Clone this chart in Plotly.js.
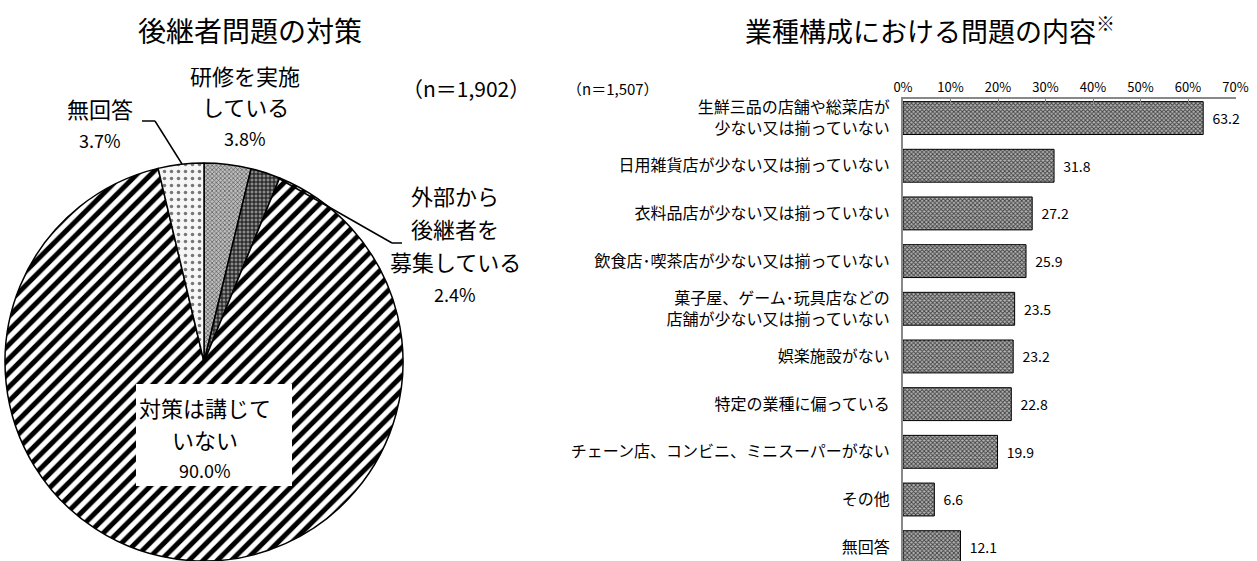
<!DOCTYPE html>
<html>
<head>
<meta charset="utf-8">
<script src="https://cdn.plot.ly/plotly-3.0.1.min.js"></script>
<style>
  body { margin: 0; background: #fff; }
  #chart { width: 1257px; height: 561px; }
</style>
</head>
<body>
<div id="chart"></div>
<script>
// left: pie
var pieLabels = ['研修を実施している', '外部から後継者を募集している', '対策は講じていない', '無回答'];
var pieValues = [3.8, 2.4, 90.0, 3.7];

// right: bars
var barCategories = [
  '生鮮三品の店舗や総菜店が少ない又は揃っていない',
  '日用雑貨店が少ない又は揃っていない',
  '衣料品店が少ない又は揃っていない',
  '飲食店・喫茶店が少ない又は揃っていない',
  '菓子屋、ゲーム・玩具店などの店舗が少ない又は揃っていない',
  '娯楽施設がない',
  '特定の業種に偏っている',
  'チェーン店、コンビニ、ミニスーパーがない',
  'その他',
  '無回答'
];
var barTickText = [
  '生鮮三品の店舗や総菜店が<br>少ない又は揃っていない',
  '日用雑貨店が少ない又は揃っていない',
  '衣料品店が少ない又は揃っていない',
  '飲食店･喫茶店が少ない又は揃っていない',
  '菓子屋、ゲーム･玩具店などの<br>店舗が少ない又は揃っていない',
  '娯楽施設がない',
  '特定の業種に偏っている',
  'チェーン店、コンビニ、ミニスーパーがない',
  'その他',
  '無回答'
];
var barValues = [63.2, 31.8, 27.2, 25.9, 23.5, 23.2, 22.8, 19.9, 6.6, 12.1];

var W = 1257, H = 561;
var FONT = 'Noto Sans CJK JP, sans-serif';
function px(x) { return x / W; }
function py(y) { return 1 - y / H; }

var pieTrace = {
  type: 'pie',
  labels: pieLabels,
  values: pieValues,
  sort: false,
  direction: 'clockwise',
  rotation: 0,
  textinfo: 'none',
  showlegend: false,
  domain: { x: [px(5), px(403)], y: [0, py(163)] },
  marker: {
    colors: ['#9a9a9a', '#6a6a6a', '#ffffff', '#f4f4f4'],
    line: { color: '#000', width: 1.5 },
    pattern: {
      shape: ['x', '+', '/', '.'],
      fgcolor: ['#555555', '#111111', '#000000', '#777777'],
      bgcolor: ['#bdbdbd', '#8a8a8a', '#ffffff', '#f6f6f6'],
      size: [3, 4, 10, 7],
      solidity: [0.4, 0.45, 0.5, 0.2]
    }
  }
};

var barTrace = {
  type: 'bar',
  orientation: 'h',
  x: barValues,
  y: barCategories,
  xaxis: 'x',
  yaxis: 'y',
  width: 0.69,
  marker: {
    color: '#a0a0a0',
    line: { color: '#000', width: 1 },
    pattern: { shape: 'x', fgcolor: '#404040', bgcolor: '#b4b4b4', size: 3, solidity: 0.5 }
  },
  texttemplate: '\u00a0\u00a0%{x:.1f}',
  textposition: 'outside',
  cliponaxis: false,
  textfont: { family: FONT, size: 14, color: '#000' },
  showlegend: false
};

var annotations = [];
function addLines(lines, x, y0, dy, sizes) {
  lines.forEach(function (t, i) {
    annotations.push({
      xref: 'paper', yref: 'paper', x: px(x), y: py(y0 + i * dy),
      xanchor: 'center', yanchor: 'middle', showarrow: false,
      text: t, font: { family: FONT, size: sizes[i], color: '#000' }
    });
  });
}
function pct(v) { return v.toFixed(1) + '%'; }

addLines(['研修を実施', 'している', pct(pieValues[0])], 245, 75, 31.5, [22, 22, 18]);
addLines(['外部から', '後継者を', '募集している', pct(pieValues[1])], 455, 195, 33, [22, 22, 22, 18]);
addLines(['対策は講じて', 'いない', pct(pieValues[2])], 205, 407, 31.5, [22, 22, 18]);
addLines(['無回答', pct(pieValues[3])], 100, 108, 32, [22, 18]);

annotations.push(
  { xref: 'paper', yref: 'paper', x: px(250), y: py(30), xanchor: 'center', yanchor: 'middle',
    showarrow: false, text: '後継者問題の対策', font: { family: FONT, size: 28, color: '#000' } },
  { xref: 'paper', yref: 'paper', x: px(930), y: py(30), xanchor: 'center', yanchor: 'middle',
    showarrow: false, text: '業種構成における問題の内容<sup>※</sup>', font: { family: FONT, size: 27, color: '#000' } },
  { xref: 'paper', yref: 'paper', x: px(466), y: py(88), xanchor: 'center', yanchor: 'middle',
    showarrow: false, text: '（n＝1,902）', font: { family: FONT, size: 21, color: '#000' } },
  { xref: 'paper', yref: 'paper', x: px(565), y: py(88), xanchor: 'left', yanchor: 'middle',
    showarrow: false, text: '（n＝1,507）', font: { family: FONT, size: 15, color: '#000' } }
);

function seg(x0, y0, x1, y1) {
  return { type: 'line', xref: 'paper', yref: 'paper', x0: px(x0), y0: py(y0), x1: px(x1), y1: py(y1),
    line: { color: '#000', width: 1.5 } };
}

var shapes = [
  { type: 'rect', xref: 'paper', yref: 'paper', x0: px(136), x1: px(292), y0: py(384), y1: py(486),
    fillcolor: '#fff', line: { width: 0 }, layer: 'above' },
  seg(142, 121, 155, 121), seg(155, 121, 182, 164),
  seg(278, 178, 392, 243), seg(392, 243, 402, 243)
];

var layout = {
  width: W, height: H,
  margin: { l: 0, r: 0, t: 0, b: 0 },
  paper_bgcolor: '#fff', plot_bgcolor: 'rgba(0,0,0,0)',
  font: { family: FONT, color: '#000' },
  xaxis: {
    domain: [px(903), px(1235.5)],
    range: [0, 70], dtick: 10, ticksuffix: '%',
    side: 'top', showgrid: false, zeroline: false,
    showline: true, linecolor: '#888', linewidth: 1.5,
    ticks: 'inside', ticklen: 5, tickcolor: '#888',
    tickfont: { family: FONT, size: 13, color: '#000' }
  },
  yaxis: {
    domain: [0, py(99)],
    type: 'category',
    range: [9.29, -0.40],
    tickmode: 'array', tickvals: barCategories, ticktext: barTickText,
    showgrid: false, zeroline: false,
    showline: true, linecolor: '#888', linewidth: 2,
    ticks: '', ticklabelstandoff: 8,
    tickfont: { family: FONT, size: 16, color: '#000' }
  },
  annotations: annotations,
  shapes: shapes
};

Plotly.newPlot('chart', [pieTrace, barTrace], layout, { displayModeBar: false });
</script>
</body>
</html>
